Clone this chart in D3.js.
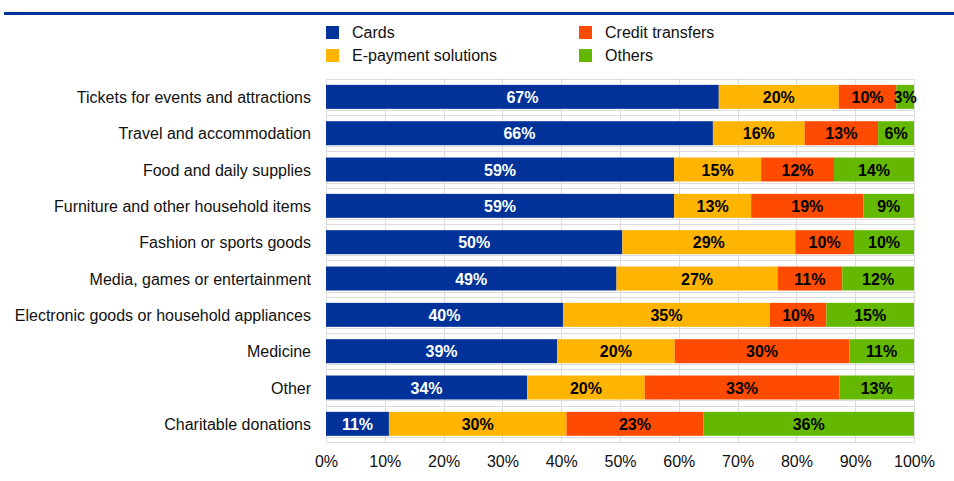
<html>
<head>
  <script src="https://d3js.org/d3.v7.min.js"></script>
  <style>
    body { margin: 0; background: #fff; }
    text { font-family: "Liberation Sans", Arial, sans-serif; }
  </style>
</head>
<body>
<script>
var width = 954,
    height = 481;

// data (share of payments, %)
var categories = [
  "Tickets for events and attractions",
  "Travel and accommodation",
  "Food and daily supplies",
  "Furniture and other household items",
  "Fashion or sports goods",
  "Media, games or entertainment",
  "Electronic goods or household appliances",
  "Medicine",
  "Other",
  "Charitable donations"
];
var seriesNames = ["Cards", "E-payment solutions", "Credit transfers", "Others"];
var cards       = [66.8, 65.8, 59.2, 59.2, 50.4, 49.4, 40.3, 39.3, 34.2, 10.7];
var epayment    = [20.4, 15.6, 14.8, 13.1, 29.4, 27.4, 35.2, 20.0, 20.0, 30.2];
var transfers   = [ 9.8, 12.5, 12.4, 19.1, 10.0, 11.0,  9.6, 29.7, 33.1, 23.3];
var others      = [ 3.0,  6.1, 13.6,  8.6, 10.2, 12.2, 14.9, 11.0, 12.7, 35.8];
var xTicks = [0, 10, 20, 30, 40, 50, 60, 70, 80, 90, 100];

var colors = ["#003299", "#ffb400", "#ff4b00", "#65b800"];
var labelColors = ["#fff", "#000", "#000", "#000"];
var fontSize = 16;

var rows = categories.map(function(c, i) {
  return { name: c, Cards: cards[i], "E-payment solutions": epayment[i],
           "Credit transfers": transfers[i], Others: others[i] };
});
var stacked = d3.stack().keys(seriesNames)(rows);

var margin = { top: 78.7, left: 326, right: 40, bottom: 39 };

var x = d3.scaleLinear()
    .domain([0, 100])
    .range([margin.left, width - margin.right]);

var y = d3.scaleBand()
    .domain(categories)
    .range([margin.top, height - margin.bottom])
    .paddingInner(0.34)
    .paddingOuter(0.17);

var svg = d3.select("body").append("svg")
    .attr("width", width)
    .attr("height", height);

// header rule
svg.append("line")
    .attr("x1", 4).attr("x2", width)
    .attr("y1", 13.5).attr("y2", 13.5)
    .attr("stroke", "#003299")
    .attr("stroke-width", 3);

// legend
var legendPos = [[326, 26], [326, 49], [579, 26], [579, 49]];
var legend = svg.append("g").selectAll("g")
    .data([0, 1, 2, 3])
    .enter().append("g")
    .attr("transform", function(d) { return "translate(" + legendPos[d][0] + "," + legendPos[d][1] + ")"; });
legend.append("rect")
    .attr("width", 13).attr("height", 13)
    .attr("fill", function(d) { return colors[d]; });
legend.append("text")
    .attr("x", 26).attr("y", 12)
    .attr("font-size", fontSize)
    .attr("fill", "#111")
    .text(function(d) { return seriesNames[d]; });

// grid
var grid = svg.append("g").attr("stroke", "#dcdcdc").attr("stroke-width", 1);
var plotTop = y.range()[0], plotBottom = y.range()[1];
grid.selectAll(".v")
    .data(xTicks)
    .enter().append("line")
    .attr("x1", function(d) { return Math.round(x(d)) + 0.5; })
    .attr("x2", function(d) { return Math.round(x(d)) + 0.5; })
    .attr("y1", plotTop).attr("y2", plotBottom);
var step = y.step();
grid.selectAll(".h")
    .data(d3.range(categories.length + 1))
    .enter().append("line")
    .attr("x1", x(0)).attr("x2", x(100))
    .attr("y1", function(i) { return Math.round(plotTop + i * step) + 0.5; })
    .attr("y2", function(i) { return Math.round(plotTop + i * step) + 0.5; });
grid.selectAll(".s")
    .data(categories)
    .enter().append("line")
    .attr("x1", x(0)).attr("x2", x(100))
    .attr("y1", function(d) { return Math.round(y(d) + y.bandwidth()) + 1.5; })
    .attr("y2", function(d) { return Math.round(y(d) + y.bandwidth()) + 1.5; });

// bars
var layers = svg.append("g").selectAll("g")
    .data(stacked)
    .enter().append("g")
    .attr("fill", function(d, i) { return colors[i]; });

layers.selectAll("rect")
    .data(function(d) { return d; })
    .enter().append("rect")
    .attr("x", function(d) { return x(d[0]); })
    .attr("width", function(d) { return x(d[1]) - x(d[0]); })
    .attr("y", function(d) { return y(d.data.name); })
    .attr("height", y.bandwidth());

// value labels
layers.each(function(layer, li) {
  d3.select(this).selectAll("text")
    .data(layer)
    .enter().append("text")
    .attr("x", function(d) { return (x(d[0]) + x(d[1])) / 2; })
    .attr("y", function(d) { return y(d.data.name) + y.bandwidth() / 2 + 6; })
    .attr("text-anchor", "middle")
    .attr("font-size", fontSize)
    .attr("font-weight", "bold")
    .attr("fill", labelColors[li])
    .text(function(d) { return Math.round(d[1] - d[0]) + "%"; });
});

// y axis labels
svg.append("g").selectAll("text")
    .data(categories)
    .enter().append("text")
    .attr("x", 311)
    .attr("y", function(d) { return y(d) + y.bandwidth() / 2 + 6; })
    .attr("text-anchor", "end")
    .attr("font-size", fontSize)
    .attr("fill", "#111")
    .text(function(d) { return d; });

// x axis
var xAxis = svg.append("g")
    .attr("transform", "translate(0," + plotBottom + ")")
    .call(d3.axisBottom(x).tickValues(xTicks).tickSize(0).tickPadding(14)
      .tickFormat(function(d) { return d + "%"; }));
xAxis.select(".domain").remove();
xAxis.selectAll("text")
    .attr("font-family", "Liberation Sans, Arial, sans-serif")
    .attr("font-size", fontSize)
    .attr("fill", "#111");
</script>
</body>
</html>
